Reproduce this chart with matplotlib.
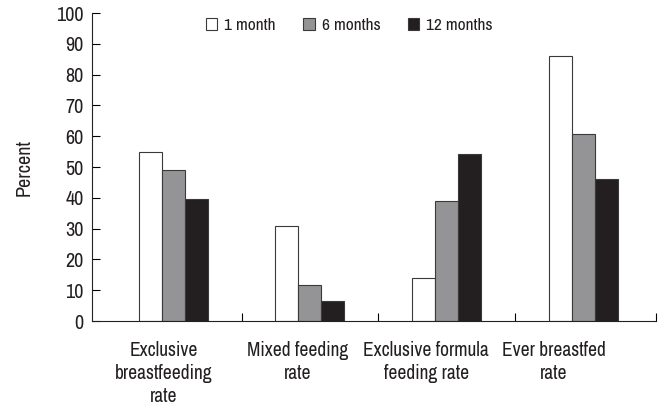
import numpy as np
import matplotlib.pyplot as plt

plt.rcParams['font.family'] = ['Archivo Narrow', 'Liberation Sans', 'DejaVu Sans']

# data
categories = ['Exclusive\nbreastfeeding\nrate', 'Mixed feeding\nrate',
              'Exclusive formula\nfeeding rate', 'Ever breastfed\nrate']
series_names = ['1 month', '6 months', '12 months']
one_month = [55, 31, 14, 86]
six_months = [49, 11.7, 39, 60.8]
twelve_months = [39.5, 6.5, 54.2, 46]

colors = ['white', '#949496', '#231f20']
x = np.arange(len(categories))
w = 0.168

fig = plt.figure(figsize=(6.59, 4.08), dpi=100)
ax = fig.add_axes([0.1396, 0.2132, 0.856, 0.7548])

for i, (vals, c, name) in enumerate(zip([one_month, six_months, twelve_months], colors, series_names)):
    ax.bar(x + (i - 1) * w, vals, width=w, color=c, edgecolor='#3a3a3a',
           linewidth=0.8, label=name)

ax.set_ylim(0, 100)
ax.set_xlim(-0.593, 3.53)
ax.set_yticks(np.arange(0, 101, 10))
ax.tick_params(axis='y', direction='in', length=6, labelsize=14.5, pad=6,
               labelcolor='#231f20')

# category separator ticks (pointing up) and labels
ax.set_xticks([0.5, 1.5, 2.5, 3.53])
ax.set_xticklabels([])
ax.tick_params(axis='x', direction='in', length=6)
label_pos = [-0.07, 0.91, 1.85, 2.78]
for p, lab in zip(label_pos, categories):
    ax.text(p, -6.5, lab, ha='center', va='top', fontsize=14, linespacing=1.25,
            color='#231f20')

for s in ['top', 'right']:
    ax.spines[s].set_visible(False)
ax.spines['left'].set_color('#222222')
ax.spines['bottom'].set_color('#222222')

ax.set_ylabel('Percent', fontsize=14.5, labelpad=16, color='#231f20')

ax.legend(ncol=3, frameon=False, loc='center', bbox_to_anchor=(0.53, 0.937),
          bbox_transform=fig.transFigure, fontsize=12.5, handlelength=0.65,
          handleheight=0.65, handletextpad=0.4, columnspacing=1.6,
          labelcolor='#231f20')

fig.savefig('out.png', dpi=100)
